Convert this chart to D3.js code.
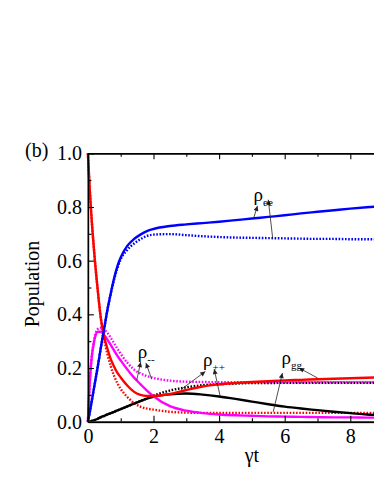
<!DOCTYPE html>
<html><head><meta charset="utf-8">
<script src="https://cdn.jsdelivr.net/npm/d3@7"></script>
<style>
html,body{margin:0;padding:0;background:#fff;overflow:hidden}
svg{display:block}
svg text{font-family:"Liberation Serif","Times New Roman",Times,serif !important;fill:#000}
</style></head>
<body>
<svg id="chart" width="374" height="484"></svg>
<script>
// ---- data ----
const T = [0,0.05,0.1,0.2,0.3,0.4,0.5,0.6,0.7,0.8,0.9,1.0,1.2,1.4,1.6,1.8,2.0,2.5,3,3.5,4,4.5,5,5.5,6,6.5,7,7.5,8,8.5,9];
const eeSolid  = [0,0.03,0.065,0.135,0.205,0.28,0.35,0.42,0.48,0.535,0.58,0.612,0.655,0.68,0.697,0.71,0.718,0.729,0.735,0.74,0.745,0.751,0.757,0.763,0.769,0.776,0.782,0.788,0.794,0.799,0.803];
const eeDotted = [0,0.03,0.065,0.135,0.205,0.28,0.35,0.42,0.478,0.53,0.572,0.605,0.64,0.663,0.68,0.692,0.697,0.699,0.695,0.691,0.688,0.686,0.685,0.684,0.683,0.682,0.681,0.681,0.68,0.68,0.68];
const ggSolid  = [1,0.88,0.78,0.62,0.49,0.38,0.315,0.27,0.232,0.205,0.182,0.165,0.135,0.112,0.1,0.096,0.096,0.103,0.118,0.131,0.139,0.144,0.148,0.151,0.154,0.156,0.158,0.16,0.162,0.164,0.166];
const ggDotted = [1,0.88,0.78,0.62,0.49,0.38,0.305,0.25,0.205,0.17,0.143,0.122,0.092,0.07,0.056,0.049,0.045,0.037,0.034,0.033,0.033,0.033,0.033,0.033,0.033,0.033,0.033,0.033,0.033,0.033,0.033];
const mmSolid  = [0,0.13,0.22,0.305,0.335,0.335,0.322,0.305,0.285,0.265,0.245,0.228,0.195,0.165,0.14,0.116,0.095,0.058,0.041,0.032,0.027,0.024,0.022,0.02,0.019,0.018,0.017,0.016,0.016,0.015,0.015];
const mmDotted = [0,0.13,0.22,0.31,0.345,0.35,0.343,0.33,0.312,0.292,0.272,0.253,0.22,0.195,0.18,0.17,0.163,0.153,0.149,0.148,0.147,0.147,0.147,0.147,0.147,0.147,0.147,0.147,0.147,0.147,0.147];
const ppSolid  = [0,0.0005,0.002,0.006,0.011,0.017,0.022,0.027,0.032,0.037,0.042,0.047,0.057,0.067,0.077,0.086,0.093,0.102,0.105,0.101,0.094,0.085,0.075,0.065,0.056,0.049,0.043,0.037,0.032,0.027,0.024];
const ppDotted = [0,0.0005,0.002,0.006,0.011,0.017,0.022,0.027,0.032,0.037,0.042,0.047,0.057,0.067,0.077,0.087,0.097,0.116,0.128,0.136,0.14,0.142,0.144,0.144,0.145,0.145,0.145,0.145,0.145,0.145,0.145];
const xMajorTicks = [0,2,4,6,8];
const xMinorTicks = [1,3,5,7,9];
const yMajorTicks = [0,0.2,0.4,0.6,0.8,1.0];
const yMinorTicks = [0.1,0.3,0.5,0.7,0.9];
const xTitle = "γt";
const yTitle = "Population";
const panelLabel = "(b)";
// annotations: label, subscript, text anchor (t,v), arrows [from(t,v), to(t,v)]
const annotations = [
  {rho:"ρ", sub:"ee", at:[5.05,0.821], arrows:[[[5.06,0.761],[5.17,0.804]],[[5.635,0.682],[5.5,0.827]]]},
  {rho:"ρ", sub:"--", at:[1.52,0.237], arrows:[[[1.49,0.155],[1.61,0.222]],[[1.945,0.158],[1.77,0.219]]]},
  {rho:"ρ", sub:"++", at:[3.51,0.208], arrows:[[[2.84,0.12],[3.58,0.187]],[[4.03,0.096],[3.85,0.196]]]},
  {rho:"ρ", sub:"gg", at:[5.9,0.214], arrows:[[[5.65,0.037],[5.93,0.181]],[[7.0,0.163],[6.44,0.2]]]}
];

// ---- chart ----
const FONT = '"Liberation Serif","Times New Roman",Times,serif';
const svg = d3.select("#chart");
const x = d3.scaleLinear().domain([0,10]).range([87.9,415.9]);
const y = d3.scaleLinear().domain([0,1]).range([421.7,153.3]);

const series = [
  {v:ppDotted, c:"#000000", dot:true},
  {v:mmDotted, c:"#ff00ff", dot:true},
  {v:ggDotted, c:"#ff0000", dot:true},
  {v:eeDotted, c:"#0000ff", dot:true},
  {v:ppSolid,  c:"#000000", dot:false},
  {v:mmSolid,  c:"#ff00ff", dot:false},
  {v:ggSolid,  c:"#ff0000", dot:false},
  {v:eeSolid,  c:"#0000ff", dot:false}
];
const line = d3.line().x((d,i)=>x(T[i])).y(d=>y(d)).curve(d3.curveMonotoneX);
svg.append("g").selectAll("path").data(series).join("path")
  .attr("d", d=>line(d.v))
  .attr("fill","none")
  .attr("stroke", d=>d.c)
  .attr("stroke-width", 2.4)
  .attr("stroke-dasharray", d=>d.dot?"1.6,1.6":null);

// axes
svg.append("g").attr("transform",`translate(${x(0)},0)`)
  .call(d3.axisLeft(y).tickValues(yMajorTicks).tickFormat(d3.format(".1f")).tickSizeInner(-6).tickSizeOuter(0).tickPadding(6));
svg.append("g").attr("transform",`translate(${x(0)},0)`)
  .call(d3.axisLeft(y).tickValues(yMinorTicks).tickFormat("").tickSizeInner(-3.5).tickSizeOuter(0));
const axB = svg.append("g").attr("transform",`translate(0,${y(0)})`)
  .call(d3.axisBottom(x).tickValues(xMajorTicks).tickFormat(d3.format("d")).tickSizeInner(-6).tickSizeOuter(0).tickPadding(7));
svg.append("g").attr("transform",`translate(0,${y(0)})`)
  .call(d3.axisBottom(x).tickValues(xMinorTicks).tickFormat("").tickSizeInner(-3.5).tickSizeOuter(0));
svg.append("g").attr("transform",`translate(0,${y(1)})`)
  .call(d3.axisTop(x).tickValues(xMajorTicks).tickFormat("").tickSizeInner(-6).tickSizeOuter(0));
svg.append("g").attr("transform",`translate(0,${y(1)})`)
  .call(d3.axisTop(x).tickValues(xMinorTicks).tickFormat("").tickSizeInner(-3.5).tickSizeOuter(0));
svg.selectAll(".domain").attr("stroke","#000").attr("stroke-width",1.4);
svg.selectAll(".tick line").attr("stroke","#000").attr("stroke-width",1.1);
axB.select(".domain").attr("stroke","#666").attr("stroke-width",2);
svg.selectAll("g").attr("font-family",FONT);
svg.selectAll(".tick text").style("font-family",FONT).attr("font-size",20).attr("fill","#000");

// titles
svg.append("text").attr("x",x(5)).attr("y",462).attr("text-anchor","middle").attr("font-size",20).style("font-family",FONT).text(xTitle);
svg.append("text").attr("transform",`translate(39,284) rotate(-90)`).attr("text-anchor","middle").attr("font-size",20).style("font-family",FONT).text(yTitle);
svg.append("text").attr("x",25).attr("y",157).attr("font-size",20).style("font-family",FONT).text(panelLabel);

// annotations
svg.append("defs").append("marker").attr("id","ah").attr("viewBox","0 0 10 10")
  .attr("refX",10).attr("refY",5).attr("markerWidth",6).attr("markerHeight",5)
  .attr("markerUnits","userSpaceOnUse").attr("orient","auto")
  .append("path").attr("d","M0,0 L10,5 L0,10 Z").attr("fill","#222");
const ag = svg.append("g");
annotations.forEach(a=>{
  a.arrows.forEach(([f,t])=>{
    ag.append("line").attr("x1",x(f[0])).attr("y1",y(f[1])).attr("x2",x(t[0])).attr("y2",y(t[1]))
      .attr("stroke","#222").attr("stroke-width",0.8).attr("marker-end","url(#ah)");
  });
  const tx = ag.append("text").attr("x",x(a.at[0])).attr("y",y(a.at[1])).attr("font-size",19).style("font-family",FONT);
  tx.append("tspan").text(a.rho);
  tx.append("tspan").attr("font-size",11).attr("dy",5).text(a.sub);
});
</script>
</body></html>
